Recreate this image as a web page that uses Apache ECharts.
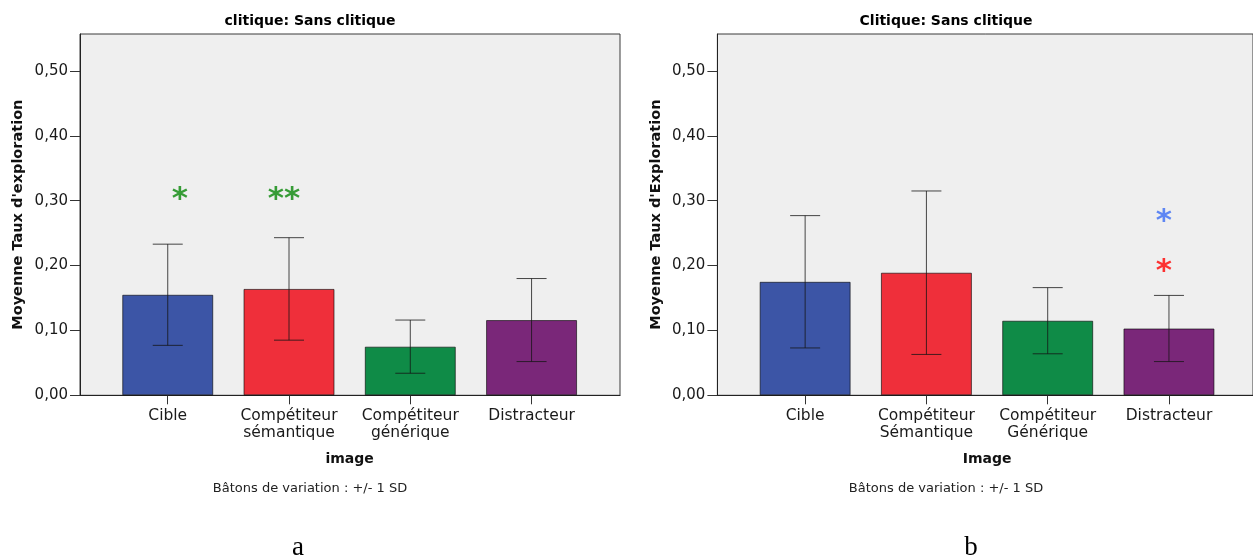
<!DOCTYPE html>
<html>
<head>
<meta charset="utf-8">
<script src="https://cdn.jsdelivr.net/npm/echarts@6/dist/echarts.min.js"></script>
<style>
  html, body { margin: 0; padding: 0; background: #fff; }
  #chart { width: 1253px; height: 560px; }
</style>
</head>
<body>
<div id="chart"></div>
<script>
// Panel a: image categories (lowercase labels)
const categoriesA = ['Cible', 'Compétiteur\nsémantique', 'Compétiteur\ngénérique', 'Distracteur'];
const meansA = [0.155, 0.164, 0.075, 0.116];
const sdA = [0.078, 0.079, 0.041, 0.064];

// Panel b: image categories (capitalised labels)
const categoriesB = ['Cible', 'Compétiteur\nSémantique', 'Compétiteur\nGénérique', 'Distracteur'];
const meansB = [0.175, 0.189, 0.115, 0.103];
const sdB = [0.102, 0.126, 0.051, 0.051];

// Significance markers: [category index, height, text]
const starsA = [[0, 0.309, '*'], [1, 0.309, '**']];
const starsB = [[3, 0.275, '*'], [3, 0.198, '*']];

const yTicks = [0, 0.1, 0.2, 0.3, 0.4, 0.5];
const yMax = 0.557;

const barColors = ['#3c55a6', '#ef2f3a', '#0f8b47', '#7a2779'];

const FONT = 'DejaVu Sans';
const chart = echarts.init(document.getElementById('chart'), null, { renderer: 'canvas' });

const plotTop = 34;
const plotH = 361.3;
const frameW = 540;
const bandW = 485.1;
const innerOffset = 27.1;
const panelLeft = [80, 717.4];

function fmt(v) { return v.toFixed(2).replace('.', ','); }

function errorBarItem(params, api) {
  const x = api.value(0);
  const m = api.value(1);
  const sd = api.value(2);
  const top = api.coord([x, m + sd]);
  const bot = api.coord([x, m - sd]);
  const hw = 15;
  const style = { stroke: 'rgba(20,20,20,0.78)', lineWidth: 1 };
  return {
    type: 'group',
    children: [
      { type: 'line', shape: { x1: top[0], y1: top[1], x2: bot[0], y2: bot[1] }, style },
      { type: 'line', shape: { x1: top[0] - hw, y1: top[1], x2: top[0] + hw, y2: top[1] }, style },
      { type: 'line', shape: { x1: bot[0] - hw, y1: bot[1], x2: bot[0] + hw, y2: bot[1] }, style }
    ]
  };
}

const grids = [];
const xAxes = [];
const yAxes = [];
const series = [];

const panels = [
  { cats: categoriesA, means: meansA, sd: sdA, stars: starsA, starColors: ['#078707', '#078707'], starDx: [12, -5],
    yName: "Moyenne Taux d'exploration", xName: 'image' },
  { cats: categoriesB, means: meansB, sd: sdB, stars: starsB, starColors: ['#3a6cf4', '#ff0000'], starDx: [-5, -5],
    yName: "Moyenne Taux d'Exploration", xName: 'Image' }
];

panels.forEach((p, k) => {
  const left = panelLeft[k];
  const gFrame = grids.length;
  // frame grid: background, border, value axis
  grids.push({ left: left, top: plotTop, width: frameW, height: plotH, show: true,
    backgroundColor: '#efefef', borderColor: '#3a3a3a', borderWidth: 1 });
  // inner grid: categories and bars
  grids.push({ left: left + innerOffset, top: plotTop, width: bandW, height: plotH });

  xAxes.push({
    gridIndex: gFrame, type: 'value', min: 0, max: 1,
    axisLine: { show: true, onZero: false, lineStyle: { color: '#222', width: 1.2 } },
    axisTick: { show: false }, axisLabel: { show: false }, splitLine: { show: false }
  });
  xAxes.push({
    gridIndex: gFrame + 1, type: 'category', data: p.cats,
    name: p.xName, nameLocation: 'middle', nameGap: 57,
    nameTextStyle: { fontFamily: FONT, fontWeight: 'bold', fontSize: 14, color: '#111' },
    axisLine: { show: false },
    axisTick: { show: true, alignWithLabel: true, length: 9, lineStyle: { color: '#333' } },
    axisLabel: { interval: 0, margin: 12, fontFamily: FONT, fontSize: 15.5, lineHeight: 17, color: '#1a1a1a' }
  });

  yAxes.push({
    gridIndex: gFrame, type: 'value', min: 0, max: yMax,
    name: p.yName, nameLocation: 'middle', nameGap: 54, nameRotate: 90,
    nameTextStyle: { fontFamily: FONT, fontWeight: 'bold', fontSize: 14.5, color: '#111' },
    axisLine: { show: true, lineStyle: { color: '#222', width: 1 } },
    axisTick: { show: true, length: 10, customValues: yTicks, lineStyle: { color: '#333' } },
    axisLabel: { customValues: yTicks, formatter: fmt, margin: 12, fontFamily: FONT, fontSize: 15, color: '#1a1a1a' },
    splitLine: { show: false }
  });
  yAxes.push({ gridIndex: gFrame + 1, type: 'value', min: 0, max: yMax, show: false });

  const xi = gFrame + 1, yi = gFrame + 1;
  series.push({
    type: 'bar', xAxisIndex: xi, yAxisIndex: yi, barWidth: 91,
    data: p.means.map((v, i) => ({ value: v, itemStyle: { color: barColors[i] } })),
    itemStyle: { borderColor: 'rgba(0,0,0,0.6)', borderWidth: 1 },
    emphasis: { disabled: true }, animation: false
  });
  series.push({
    type: 'custom', xAxisIndex: xi, yAxisIndex: yi,
    data: p.means.map((v, i) => [i, v, p.sd[i]]),
    encode: { x: 0, y: 1 },
    renderItem: errorBarItem, z: 5, animation: false, silent: true
  });
  p.stars.forEach((s, j) => {
    series.push({
      type: 'scatter', xAxisIndex: xi, yAxisIndex: yi, symbolSize: 0,
      data: [[s[0], s[1]]], z: 6, silent: true, animation: false,
      label: { show: true, position: 'inside', formatter: s[2], offset: [p.starDx[j], 5],
        fontFamily: FONT, fontWeight: 'bold', fontSize: 31, color: p.starColors[j] }
    });
  });
});

function txt(x, y, text, size, weight, family, color) {
  return { type: 'text', x: x, y: y, silent: true,
    style: { text: text, fontSize: size, fontWeight: weight, fontFamily: family, fill: color,
      align: 'center', verticalAlign: 'middle' } };
}

chart.setOption({
  animation: false,
  backgroundColor: '#ffffff',
  grid: grids,
  xAxis: xAxes,
  yAxis: yAxes,
  series: series,
  graphic: [
    txt(310, 21, 'clitique: Sans clitique', 14, 'bold', FONT, '#000'),
    txt(946, 21, 'Clitique: Sans clitique', 14, 'bold', FONT, '#000'),
    txt(310, 489, 'Bâtons de variation : +/- 1 SD', 13, 'normal', FONT, '#222'),
    txt(946, 489, 'Bâtons de variation : +/- 1 SD', 13, 'normal', FONT, '#222'),
    txt(298, 548, 'a', 27, 'normal', 'Liberation Serif', '#000'),
    txt(971, 548, 'b', 27, 'normal', 'Liberation Serif', '#000')
  ]
});
</script>
</body>
</html>
